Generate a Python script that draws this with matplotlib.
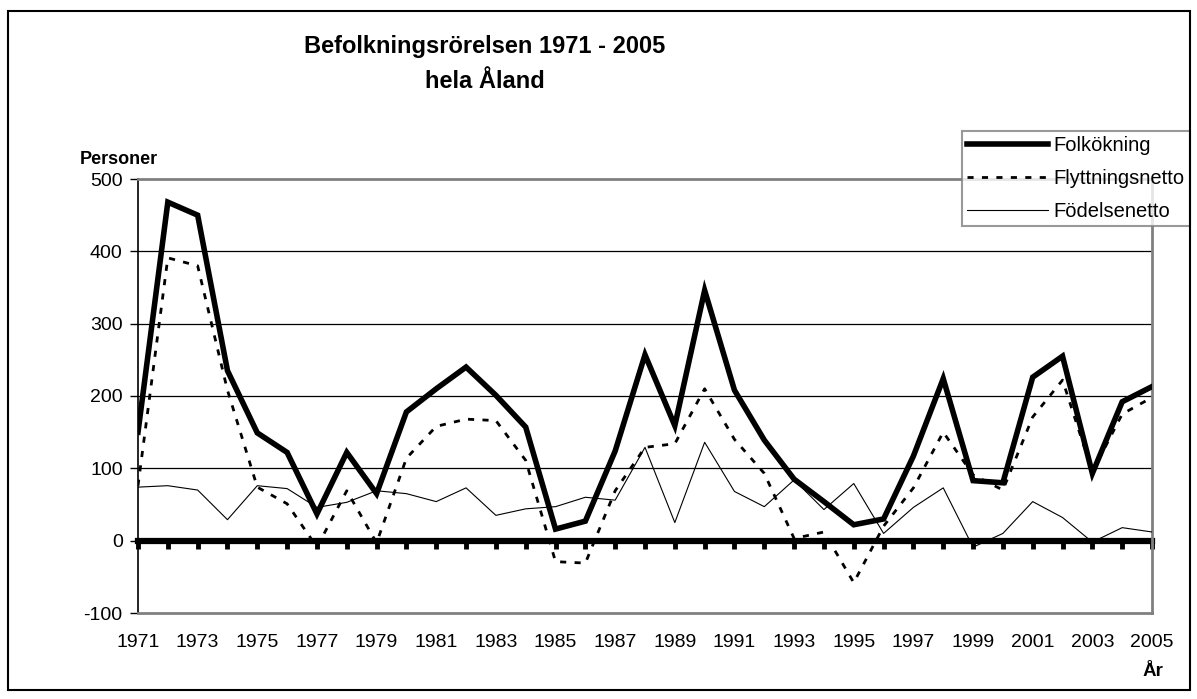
import matplotlib
matplotlib.use("Agg")
import matplotlib.pyplot as plt
from matplotlib.patches import Rectangle

plt.rcParams['font.family'] = ['Liberation Sans', 'DejaVu Sans']
plt.rcParams['axes.unicode_minus'] = False

years = list(range(1971, 2006))
folkokning = [150, 468, 450, 235, 149, 122, 37, 122, 65, 178, 210, 240, 201, 157, 16, 27,
              124, 257, 159, 346, 208, 139, 85, 54, 22, 30, 117, 224, 83, 80, 226, 255, 93, 192, 213]
flyttningsnetto = [76, 391, 380, 208, 74, 51, -9, 69, -3, 114, 158, 168, 166, 111, -29, -31,
                   69, 129, 134, 210, 140, 93, 3, 12, -58, 20, 73, 150, 91, 70, 171, 222, 95, 175, 198]
fodelsenetto = [74, 76, 70, 29, 76, 72, 46, 53, 69, 65, 54, 73, 35, 44, 47, 60,
                56, 129, 25, 136, 68, 47, 84, 43, 79, 10, 46, 73, -9, 10, 54, 32, -2, 18, 12]
label_years = [str(y) for y in range(1971, 2006, 2)]

W, H = 1197, 699
fig = plt.figure(figsize=(W / 100, H / 100), dpi=100)
ax = fig.add_axes([138 / W, 1 - 613 / H, (1152 - 138) / W, (613 - 179) / H])

ax.plot(years, folkokning, color='black', lw=4.0, solid_joinstyle='miter', label='Folkökning', zorder=4)
ax.plot(years, flyttningsnetto, color='black', lw=2.0, linestyle=(0, (2.2, 3.0)), label='Flyttningsnetto', zorder=3)
ax.plot(years, fodelsenetto, color='black', lw=0.8, label='Födelsenetto', zorder=3)

ax.set_xlim(1971, 2005)
ax.set_ylim(-100, 500)
ax.set_yticks(range(-100, 501, 100))
for v in range(100, 500, 100):
    ax.axhline(v, color='black', lw=0.9, zorder=1)

ax.set_xticks(range(1971, 2006, 2))
ax.set_xticklabels(label_years)
ax.tick_params(axis='x', length=0, pad=15, labelsize=14)
ax.tick_params(axis='y', direction='out', length=6, width=1, labelsize=14, pad=5)

for s in ['top', 'right', 'bottom']:
    ax.spines[s].set_color('#808080')
    ax.spines[s].set_linewidth(2)
ax.spines['left'].set_color('black')
ax.spines['left'].set_linewidth(1.2)

sec = ax.secondary_xaxis(0, transform=ax.transData)
sec.set_xticks(years)
sec.tick_params(axis='x', direction='out', length=6, width=3.5, labelbottom=False, color='black')
sec.spines['bottom'].set_linewidth(4.5)
sec.spines['bottom'].set_color('black')

leg = ax.legend(loc='upper left', bbox_to_anchor=(962 / W, 1 - 131 / H), bbox_transform=fig.transFigure,
                fontsize=14.5, frameon=True, fancybox=False, borderpad=0.25, handlelength=4.0,
                handletextpad=0.3, labelspacing=0.7, borderaxespad=0)
leg.get_frame().set_edgecolor('#808080')
leg.get_frame().set_linewidth(1.5)
leg.set_zorder(10)

fig.text(485 / W, 1 - 46 / H, 'Befolkningsrörelsen 1971 - 2005', ha='center', va='center',
         fontsize=17, fontweight='bold')
fig.text(485 / W, 1 - 81 / H, 'hela Åland', ha='center', va='center', fontsize=17, fontweight='bold')
fig.text(80 / W, 1 - 159 / H, 'Personer', ha='left', va='center', fontsize=13, fontweight='bold')
fig.text(1153 / W, 1 - 671 / H, 'År', ha='center', va='center', fontsize=13.5, fontweight='bold')

fig.patches.append(Rectangle((8 / W, 1 - 690 / H), (1190 - 8) / W, (690 - 11) / H, transform=fig.transFigure,
                             fill=False, edgecolor='black', lw=1.5))

fig.savefig('out.png', dpi=100)
